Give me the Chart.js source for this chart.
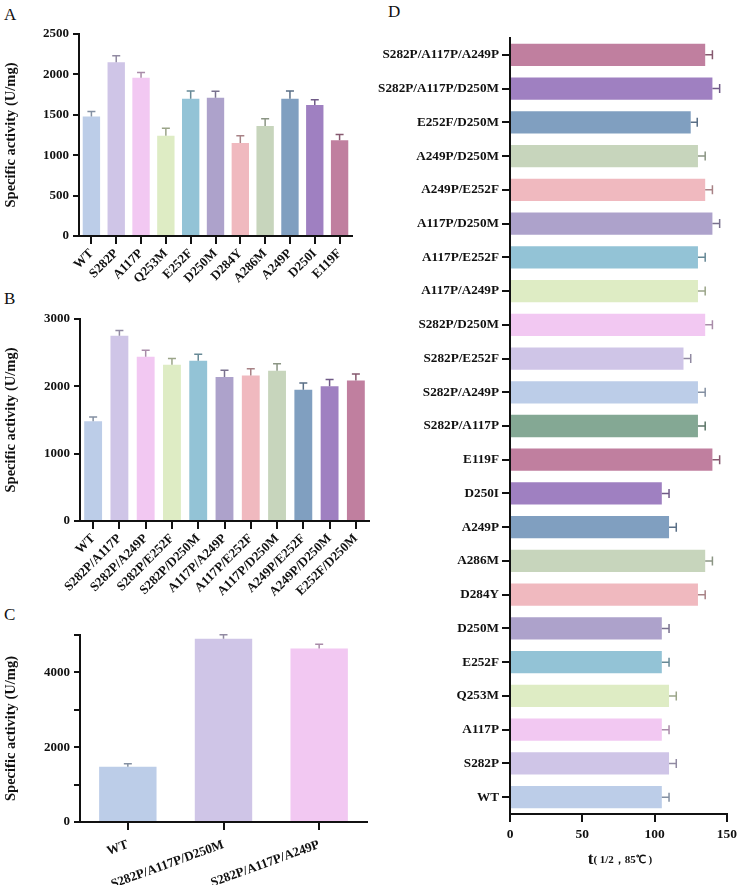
<!DOCTYPE html>
<html>
<head>
<meta charset="utf-8">
<script src="https://cdn.jsdelivr.net/npm/chart.js@4.4.1/dist/chart.umd.min.js"></script>
<style>
  html, body { margin: 0; padding: 0; background: #fff; }
  body { width: 741px; height: 885px; position: relative; overflow: hidden; font-family: "Liberation Serif", "Times New Roman", serif; color: #111; }
  canvas { position: absolute; }
  .letter { position: absolute; font-size: 17px; line-height: 1; }
  .xtitle { position: absolute; left: 560px; width: 120px; top: 849px; text-align: center; font-weight: bold; font-size: 17px; }
  .xtitle sub { font-size: 11px; vertical-align: 1px; }
</style>
</head>
<body>
<div class="letter" style="left:4px;top:6px;">A</div>
<div class="letter" style="left:4px;top:290px;">B</div>
<div class="letter" style="left:4px;top:606px;">C</div>
<div class="letter" style="left:388px;top:3px;">D</div>

<canvas id="chartA" width="370" height="292" style="left:0;top:0;"></canvas>
<canvas id="chartB" width="372" height="310" style="left:0;top:290px;"></canvas>
<canvas id="chartC" width="372" height="285" style="left:0;top:600px;"></canvas>
<canvas id="chartD" width="371" height="885" style="left:370px;top:0;"></canvas>
<div class="xtitle">t<sub>( 1/2，85℃ )</sub></div>

<script>
// ---- data ----
const catsA = ['WT', 'S282P', 'A117P', 'Q253M', 'E252F', 'D250M', 'D284Y', 'A286M', 'A249P', 'D250I', 'E119F'];
const activityA = [1480, 2150, 1960, 1240, 1700, 1710, 1150, 1360, 1700, 1620, 1185];
const errA = [60, 80, 65, 95, 95, 80, 90, 90, 95, 65, 70];
const yTicksA = [0, 500, 1000, 1500, 2000, 2500];

const catsB = ['WT', 'S282P/A117P', 'S282P/A249P', 'S282P/E252F', 'S282P/D250M', 'A117P/A249P',
  'A117P/E252F', 'A117P/D250M', 'A249P/E252F', 'A249P/D250M', 'E252F/D250M'];
const activityB = [1480, 2750, 2440, 2320, 2380, 2140, 2160, 2230, 1950, 2000, 2085];
const errB = [65, 80, 95, 95, 95, 100, 100, 105, 100, 100, 100];
const yTicksB = [0, 1000, 2000, 3000];

const catsC = ['WT', 'S282P/A117P/D250M', 'S282P/A117P/A249P'];
const activityC = [1480, 4900, 4640];
const errC = [75, 110, 115];
const yTicksC = [0, 1000, 2000, 3000, 4000, 5000];
const yLabelsC = ['0', '', '2000', '', '4000', ''];

const catsD = ['WT', 'S282P', 'A117P', 'Q253M', 'E252F', 'D250M', 'D284Y', 'A286M', 'A249P', 'D250I', 'E119F',
  'S282P/A117P', 'S282P/A249P', 'S282P/E252F', 'S282P/D250M', 'A117P/A249P', 'A117P/E252F', 'A117P/D250M',
  'A249P/E252F', 'A249P/D250M', 'E252F/D250M', 'S282P/A117P/D250M', 'S282P/A117P/A249P'];
const halfLifeD = [105, 110, 105, 110, 105, 105, 130, 135, 110, 105, 140,
  130, 130, 120, 135, 130, 130, 140, 135, 130, 125, 140, 135];
const errD = [5, 5, 5, 5, 5, 5, 5, 5, 5, 5, 5, 5, 5, 5, 5, 5, 5, 5, 5, 5, 4.5, 5, 5];
const xTicksD = [0, 50, 100, 150];

// colour cycle used in every panel
const palette = ['#bccde8', '#cfc5e7', '#f2c8f2', '#deecc4', '#93c3d6', '#ada2cb',
  '#f0b9bf', '#c7d5bc', '#809fc0', '#9f80c1', '#c07f9f'];
const paletteD = palette.concat(['#84a894']).concat(palette);

const FONT = '"Liberation Serif", "Times New Roman", serif';

function shade(hex, f) {
  const n = parseInt(hex.slice(1), 16);
  const r = Math.round(((n >> 16) & 255) * f);
  const g = Math.round(((n >> 8) & 255) * f);
  const b = Math.round((n & 255) * f);
  return `rgb(${r},${g},${b})`;
}

// draws the upper error bar of each bar from the value scale
const errorBars = {
  id: 'errorBars',
  afterDatasetsDraw(chart, args, opts) {
    const ctx = chart.ctx;
    const ds = chart.data.datasets[0];
    const meta = chart.getDatasetMeta(0);
    const horizontal = chart.options.indexAxis === 'y';
    const vScale = horizontal ? chart.scales.x : chart.scales.y;
    ctx.save();
    ctx.lineWidth = 1.5;
    meta.data.forEach((bar, i) => {
      const end = vScale.getPixelForValue(ds.data[i] + ds.errors[i]);
      ctx.strokeStyle = shade(ds.backgroundColor[i], 0.7);
      ctx.beginPath();
      if (horizontal) {
        ctx.moveTo(bar.x, bar.y);
        ctx.lineTo(end, bar.y);
        ctx.moveTo(end, bar.y - opts.cap);
        ctx.lineTo(end, bar.y + opts.cap);
      } else {
        ctx.moveTo(bar.x, bar.y);
        ctx.lineTo(bar.x, end);
        ctx.moveTo(bar.x - opts.cap, end);
        ctx.lineTo(bar.x + opts.cap, end);
      }
      ctx.stroke();
    });
    ctx.restore();
  }
};

function columnChart(id, labels, values, errors, ticks, tickLabels, area, barPct, rotation, labelPad) {
  const canvas = document.getElementById(id);
  new Chart(canvas, {
    type: 'bar',
    data: {
      labels: labels,
      datasets: [{
        data: values,
        errors: errors,
        backgroundColor: palette.slice(0, values.length),
        borderWidth: 0,
        barPercentage: barPct,
        categoryPercentage: 1,
      }],
    },
    options: {
      responsive: false,
      animation: false,
      layout: { padding: { left: 0, top: area.top, right: canvas.width - area.right, bottom: 0 } },
      plugins: {
        legend: { display: false },
        tooltip: { enabled: false },
        errorBars: { cap: 4 },
      },
      scales: {
        x: {
          grid: { offset: false, drawOnChartArea: false, drawTicks: true, tickLength: 8, color: '#111', lineWidth: 2 },
          border: { display: true, color: '#111', width: 2 },
          ticks: { color: '#111', autoSkip: false, minRotation: rotation, maxRotation: rotation, padding: labelPad,
            font: { family: FONT, size: 13, weight: 'bold' } },
          afterFit: (s) => { s.height = canvas.height - area.bottom; },
        },
        y: {
          min: ticks[0],
          max: ticks[ticks.length - 1],
          afterBuildTicks: (s) => { s.ticks = ticks.map(v => ({ value: v })); },
          grid: { drawOnChartArea: false, drawTicks: true, tickLength: 6, color: '#111', lineWidth: 2 },
          border: { display: true, color: '#111', width: 2 },
          ticks: { color: '#111', padding: 4, callback: (v, i) => tickLabels[i],
            font: { family: FONT, size: 13, weight: 'bold' } },
          title: { display: true, text: 'Specific activity (U/mg)', color: '#111', padding: { top: 3, bottom: 0 },
            font: { family: FONT, size: 14.5, weight: 'bold' } },
          afterFit: (s) => { s.width = area.left; },
        },
      },
    },
    plugins: [errorBars],
  });
}

columnChart('chartA', catsA, activityA, errA, yTicksA, yTicksA.map(String),
  { left: 79, right: 352, top: 34, bottom: 236 }, 0.7, 45, 2);
columnChart('chartB', catsB, activityB, errB, yTicksB, yTicksB.map(String),
  { left: 80, right: 369, top: 29, bottom: 231 }, 0.68, 45, 2);
columnChart('chartC', catsC, activityC, errC, yTicksC, yLabelsC,
  { left: 80, right: 367, top: 35, bottom: 222 }, 0.6, 20, 7);

// panel D: horizontal bars, half-life
const canvasD = document.getElementById('chartD');
const areaD = { left: 140, right: 360, top: 38, bottom: 814 };
new Chart(canvasD, {
  type: 'bar',
  data: {
    labels: catsD,
    datasets: [{
      data: halfLifeD,
      errors: errD,
      backgroundColor: paletteD.slice(0, halfLifeD.length),
      borderWidth: 0,
      barPercentage: 0.66,
      categoryPercentage: 1,
    }],
  },
  options: {
    indexAxis: 'y',
    responsive: false,
    animation: false,
    layout: { padding: { left: 0, top: areaD.top, right: canvasD.width - areaD.right, bottom: 0 } },
    plugins: {
      legend: { display: false },
      tooltip: { enabled: false },
      errorBars: { cap: 4.5 },
    },
    scales: {
      x: {
        min: xTicksD[0],
        max: xTicksD[xTicksD.length - 1],
        afterBuildTicks: (s) => { s.ticks = xTicksD.map(v => ({ value: v })); },
        grid: { drawOnChartArea: false, drawTicks: true, tickLength: 8, color: '#111', lineWidth: 2 },
        border: { display: true, color: '#111', width: 2 },
        ticks: { color: '#111', padding: 4, font: { family: FONT, size: 13.5, weight: 'bold' } },
        afterFit: (s) => { s.height = canvasD.height - areaD.bottom; },
      },
      y: {
        reverse: true,
        grid: { offset: false, drawOnChartArea: false, drawTicks: true, tickLength: 8, color: '#111', lineWidth: 2 },
        border: { display: true, color: '#111', width: 2 },
        ticks: { color: '#111', autoSkip: false, padding: 3, font: { family: FONT, size: 13.2, weight: 'bold' } },
        afterFit: (s) => { s.width = areaD.left; },
      },
    },
  },
  plugins: [errorBars],
});
</script>
</body>
</html>
